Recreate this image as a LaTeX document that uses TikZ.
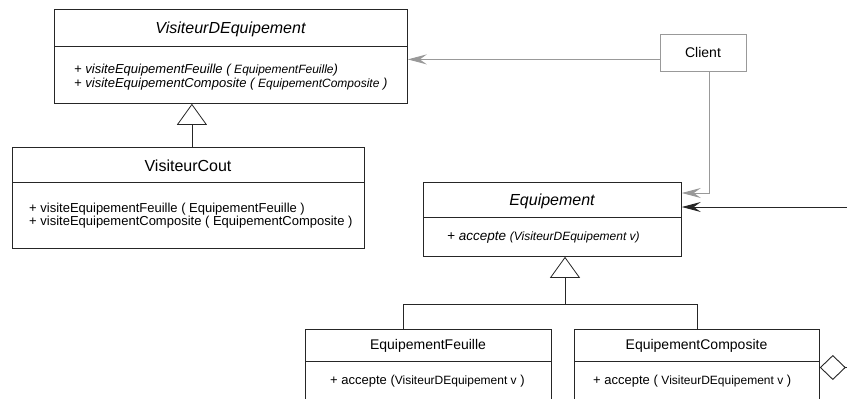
\documentclass[tikz,border=0pt]{standalone}
\usepackage{fontspec}
\setmainfont{Liberation Sans}
\usetikzlibrary{arrows.meta,positioning}
\tikzset{
    classe/.style={draw=black!85, rectangle, anchor=north west, inner sep=0pt, line width=0.8pt},
    titre/.style={anchor=base, inner sep=0pt, font=\fontsize{16}{19}\selectfont},
    soustitre/.style={anchor=base, inner sep=0pt, font=\fontsize{14}{17}\selectfont},
    methode/.style={anchor=base west, inner sep=0pt, font=\fontsize{13}{15}\selectfont},
    lien/.style={draw=gray!80, line width=0.9pt, -{Stealth[length=19pt,width=10pt,inset=7pt]}},
    herite/.style={draw=black!85, line width=0.8pt, -{Triangle[open,length=21pt,width=30pt,fill=white]}},
    agrege/.style={draw=black!85, line width=0.9pt, {Diamond[open,length=26pt,width=25pt,fill=white]}-{Stealth[length=19pt,width=10pt,inset=7pt]}}
}
\newcommand{\param}[1]{{\fontsize{12}{14}\selectfont #1}}

\begin{document}
\begin{tikzpicture}[x=1pt,y=-1pt]
    \useasboundingbox (0,0) rectangle (847,399);
    \clip (0,0) rectangle (847,399);
    % Visiteur abstrait
    \node[classe, minimum width=353pt, minimum height=94pt] (visiteur) at (54,9) {};
    \draw[black!85] ([yshift=-37pt]visiteur.north west) -- ([yshift=-37pt]visiteur.north east);
    \node[titre] (visiteurT) at (230.5,33.2) {\itshape VisiteurDEquipement};
    \node[methode] (visiteurM1) at (74,73.5) {\itshape + visiteEquipementFeuille ( \param{EquipementFeuille})};
    \node[methode] (visiteurM2) at (74,87) {\itshape + visiteEquipementComposite ( \param{EquipementComposite} )};
    % Visiteur concret
    \node[classe, minimum width=352pt, minimum height=101pt] (cout) at (12,147) {};
    \draw[black!85] ([yshift=-35pt]cout.north west) -- ([yshift=-35pt]cout.north east);
    \node[titre] (coutT) at (188,171.5) {VisiteurCout};
    \node[methode] (coutM1) at (29,212) {+ visiteEquipementFeuille ( EquipementFeuille )};
    \node[methode] (coutM2) at (29,225.5) {+ visiteEquipementComposite ( EquipementComposite )};
    % Client
    \node[classe, draw=gray!80, minimum width=86pt, minimum height=37pt] (client) at (660,34) {};
    \node[soustitre] (clientT) at (703,57.6) {Client};
    % Element abstrait
    \node[classe, minimum width=258pt, minimum height=74pt] (equip) at (423,182) {};
    \draw[black!85] ([yshift=-35pt]equip.north west) -- ([yshift=-35pt]equip.north east);
    \node[titre] (equipT) at (552,205) {\itshape Equipement};
    \node[methode, font=\fontsize{13.5}{15}\selectfont] (equipM) at (447,240.5) {\itshape + accepte \param{(VisiteurDEquipement v)}};
    % Elements concrets
    \node[classe, minimum width=246pt, minimum height=100pt] (feuille) at (305,329) {};
    \draw[black!85] ([yshift=-32pt]feuille.north west) -- ([yshift=-32pt]feuille.north east);
    \node[soustitre] (feuilleT) at (428,349.5) {EquipementFeuille};
    \node[methode] (feuilleM) at (330,384) {+ accepte (\param{VisiteurDEquipement v} )};
    \node[classe, minimum width=245pt, minimum height=100pt] (composite) at (574,329) {};
    \draw[black!85] ([yshift=-32pt]composite.north west) -- ([yshift=-32pt]composite.north east);
    \node[soustitre] (compositeT) at (696.5,349.5) {EquipementComposite};
    \node[methode] (compositeM) at (593,384) {+ accepte ( \param{VisiteurDEquipement v} )};
    % Liens
    \draw[lien] ([yshift=-6.5pt]client.west) -- ([yshift=-6.5pt]client.west -| visiteur.east);
    \draw[lien] ([xshift=6pt]client.south) |- ([yshift=-11pt]equip.north east);
    \draw[herite] ([xshift=3.5pt]cout.north) -- ([xshift=3.5pt]cout.north |- visiteur.south);
    \coordinate (fourche) at (565,304.5);
    \draw[herite] (fourche) -- (fourche |- equip.south);
    \draw[black!85, line width=0.8pt] ([xshift=-25pt]feuille.north) |- (fourche) -| (composite.north);
    \draw[agrege] ([yshift=-38.5pt]composite.north east) -- ++(60,0) |- ([yshift=-25pt]equip.north east);
\end{tikzpicture}
\end{document}
